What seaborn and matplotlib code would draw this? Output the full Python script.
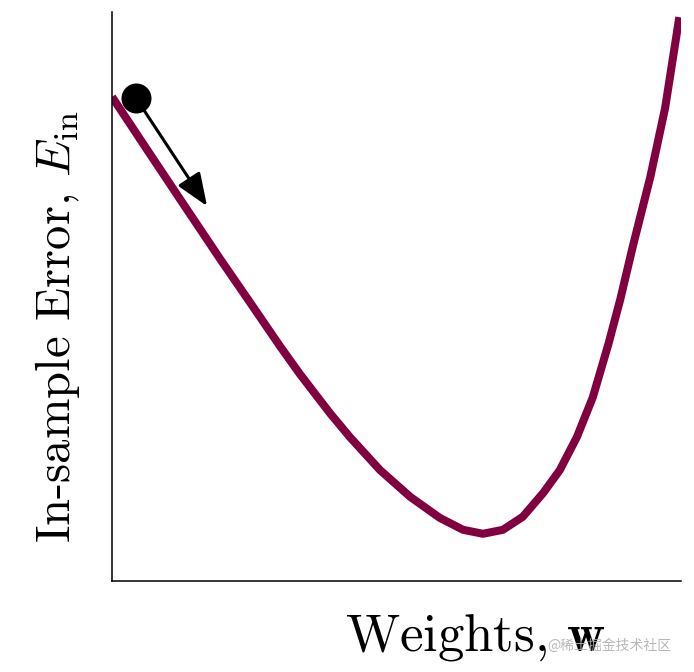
import matplotlib
matplotlib.use("Agg")
import matplotlib.pyplot as plt
import seaborn as sns

# curve (weights -> in-sample error), axes scaled 0..1
weights = [0.000, 0.067, 0.125, 0.190, 0.243, 0.295, 0.330, 0.383, 0.418,
           0.471, 0.524, 0.576, 0.617, 0.652, 0.687, 0.722, 0.758, 0.787,
           0.817, 0.845, 0.872, 0.893, 0.916, 0.946, 0.972, 0.997]
error = [0.851, 0.750, 0.663, 0.566, 0.489, 0.413, 0.364, 0.295, 0.253,
         0.195, 0.148, 0.111, 0.090, 0.083, 0.090, 0.113, 0.155, 0.195,
         0.253, 0.323, 0.415, 0.494, 0.591, 0.710, 0.831, 0.991]

# starting point of gradient descent and where the arrow points
start_w, start_E = 0.042, 0.849
step_w, step_E = 0.167, 0.659

sns.set_style("white")
plt.rcParams["font.family"] = ["cmr10"]
plt.rcParams["mathtext.fontset"] = "cm"
plt.rcParams["axes.formatter.use_mathtext"] = True
plt.rcParams["text.color"] = "black"
plt.rcParams["axes.labelcolor"] = "black"

fig = plt.figure(figsize=(6.94, 6.72), dpi=100)
ax = fig.add_axes([0.1614, 0.1354, 0.8199, 0.8467])

sns.lineplot(x=weights, y=error, ax=ax, color="#800040", lw=5.8,
             solid_joinstyle="round", solid_capstyle="butt")

sns.scatterplot(x=[start_w], y=[start_E], ax=ax, s=400, color="black",
                edgecolor="black", zorder=5)
ax.annotate("", xy=(step_w, step_E), xytext=(start_w, start_E),
            arrowprops=dict(arrowstyle="-|>,head_length=2.0,head_width=0.8",
                            mutation_scale=10, lw=2.2, color="black",
                            shrinkA=0, shrinkB=0), zorder=6)

ax.set_xlim(0, 1)
ax.set_ylim(0, 1)
ax.set_xticks([])
ax.set_yticks([])
for side in ["top", "right"]:
    ax.spines[side].set_visible(False)
for side in ["left", "bottom"]:
    ax.spines[side].set_color("black")
    ax.spines[side].set_linewidth(1.1)

ax.set_ylabel(r"In-sample Error, $E_{\rm in}$", fontsize=35)
ax.yaxis.set_label_coords(-0.053, 0.447)
ax.set_xlabel(r"Weights, $\mathbf{w}$", fontsize=38)
ax.xaxis.set_label_coords(0.638, -0.055)

fig.text(0.788, 0.033, "@稀土掘金技术社区", fontsize=10, color="#b0b0b0",
         family=["Noto Sans CJK SC", "DejaVu Sans"], alpha=0.9)

fig.savefig("out.png", dpi=100)
